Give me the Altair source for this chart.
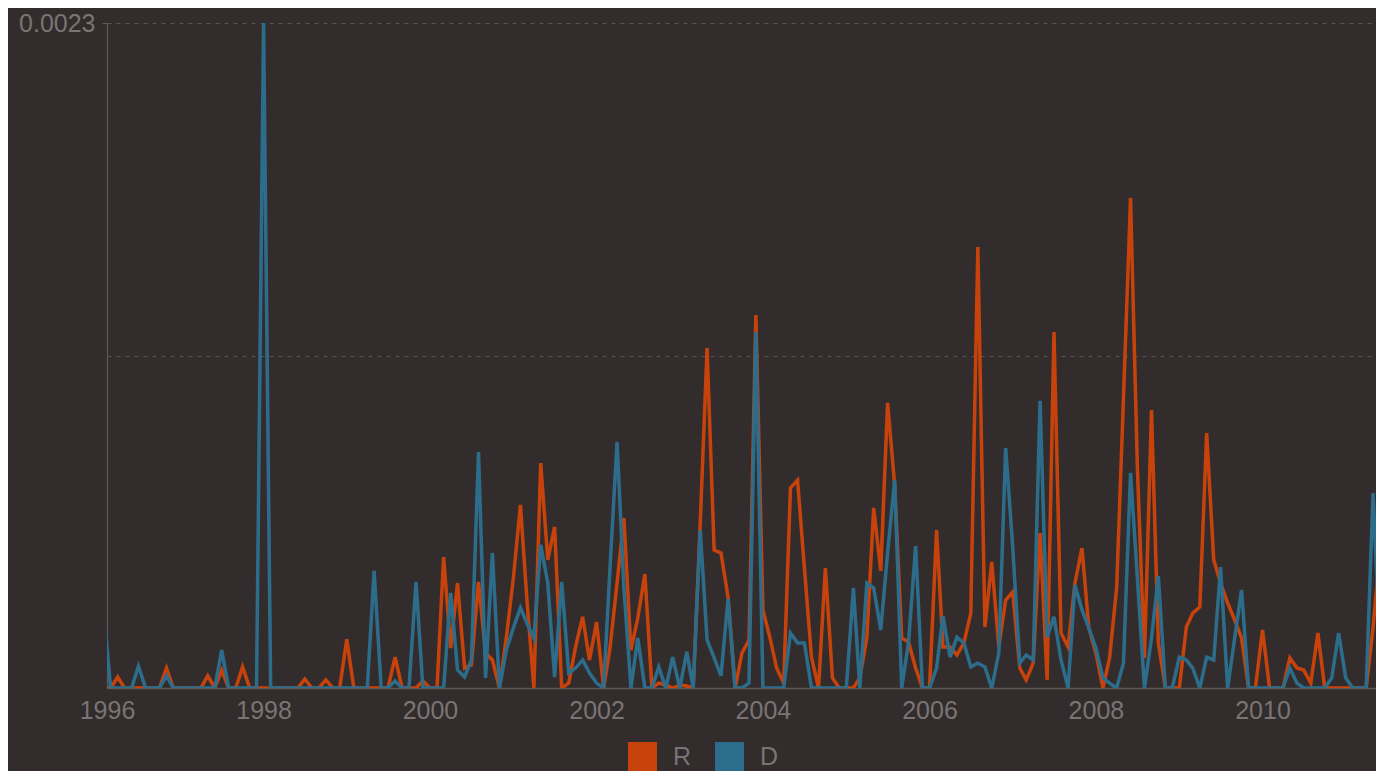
import altair as alt
import pandas as pd

# Monthly series, first month = February 1996
MONTHS = pd.date_range("1996-02-01", periods=185, freq="MS").strftime("%Y-%m-%d").tolist()
SERIES = ["R", "D"]
COLORS = ["#c8430c", "#2d6d8c"]

R_VALUES = [
    0, 0, 38e-6, 0, 0, 0, 0, 0, 0, 69e-6,
    0, 0, 0, 0, 0, 42e-6, 0, 62e-6, 0, 0,
    73e-6, 0, 0, 0, 0, 0, 0, 0, 0, 31e-6,
    0, 0, 28e-6, 0, 0, 169e-6, 0, 0, 0, 0,
    0, 0, 107e-6, 0, 0, 0, 24e-6, 0, 0, 453e-6,
    138e-6, 363e-6, 69e-6, 80e-6, 367e-6, 121e-6, 97e-6, 0, 173e-6, 380e-6,
    633e-6, 311e-6, 0, 778e-6, 443e-6, 557e-6, 0, 17e-6, 142e-6, 246e-6,
    97e-6, 228e-6, 0, 138e-6, 363e-6, 588e-6, 131e-6, 242e-6, 394e-6, 0,
    17e-6, 10e-6, 0, 10e-6, 7e-6, 0, 571e-6, 1176e-6, 477e-6, 467e-6,
    315e-6, 0, 121e-6, 166e-6, 1290e-6, 270e-6, 173e-6, 69e-6, 17e-6, 692e-6,
    719e-6, 415e-6, 107e-6, 0, 415e-6, 35e-6, 0, 0, 0, 35e-6,
    173e-6, 623e-6, 405e-6, 986e-6, 702e-6, 173e-6, 159e-6, 69e-6, 0, 0,
    546e-6, 142e-6, 142e-6, 114e-6, 156e-6, 259e-6, 1525e-6, 211e-6, 436e-6, 142e-6,
    304e-6, 332e-6, 69e-6, 28e-6, 86e-6, 536e-6, 28e-6, 1231e-6, 190e-6, 142e-6,
    363e-6, 484e-6, 208e-6, 121e-6, 0, 104e-6, 346e-6, 1003e-6, 1695e-6, 761e-6,
    104e-6, 961e-6, 156e-6, 0, 0, 0, 211e-6, 259e-6, 280e-6, 882e-6,
    443e-6, 363e-6, 294e-6, 235e-6, 173e-6, 0, 0, 201e-6, 0, 0,
    0, 104e-6, 69e-6, 62e-6, 17e-6, 190e-6, 0, 0, 0, 0,
    0, 0, 0, 208e-6, 484e-6,
]

D_VALUES = [
    256e-6, 0, 0, 0, 0, 76e-6, 0, 0, 0, 42e-6,
    0, 0, 0, 0, 0, 0, 0, 131e-6, 0, 0,
    0, 0, 0, 2300e-6, 0, 0, 0, 0, 0, 0,
    0, 0, 0, 0, 0, 0, 0, 0, 0, 405e-6,
    0, 0, 24e-6, 0, 0, 367e-6, 0, 0, 0, 0,
    329e-6, 62e-6, 38e-6, 97e-6, 816e-6, 35e-6, 467e-6, 0, 131e-6, 208e-6,
    277e-6, 225e-6, 173e-6, 495e-6, 363e-6, 38e-6, 367e-6, 52e-6, 69e-6, 97e-6,
    52e-6, 17e-6, 0, 415e-6, 851e-6, 346e-6, 0, 173e-6, 0, 0,
    73e-6, 0, 107e-6, 0, 125e-6, 0, 546e-6, 166e-6, 104e-6, 42e-6,
    308e-6, 0, 0, 17e-6, 1231e-6, 0, 0, 0, 0, 190e-6,
    156e-6, 156e-6, 0, 0, 0, 0, 0, 0, 346e-6, 0,
    363e-6, 346e-6, 201e-6, 467e-6, 719e-6, 0, 159e-6, 491e-6, 0, 0,
    69e-6, 249e-6, 107e-6, 176e-6, 156e-6, 73e-6, 86e-6, 73e-6, 0, 121e-6,
    830e-6, 488e-6, 86e-6, 114e-6, 97e-6, 993e-6, 176e-6, 246e-6, 97e-6, 0,
    356e-6, 270e-6, 208e-6, 138e-6, 35e-6, 17e-6, 0, 86e-6, 744e-6, 380e-6,
    0, 173e-6, 387e-6, 0, 0, 107e-6, 97e-6, 69e-6, 0, 107e-6,
    97e-6, 418e-6, 0, 173e-6, 339e-6, 0, 0, 0, 0, 0,
    0, 69e-6, 17e-6, 0, 0, 0, 0, 35e-6, 190e-6, 35e-6,
    0, 0, 0, 674e-6, 138e-6,
]

Y_MAX = 0.0023
Y_TICKS = [0, 0.00115, 0.0023]

assert len(R_VALUES) == len(MONTHS) == len(D_VALUES)

rows = []
for name, vals in zip(SERIES, [R_VALUES, D_VALUES]):
    for m, v in zip(MONTHS, vals):
        rows.append({"date": m, "party": name, "value": v})
df = pd.DataFrame(rows)

GRAY = "#7a7474"
AXIS_LINE = "#5e5858"
FONT = "Liberation Sans"

x_domain = [alt.DateTime(year=1996, month=2, date=14, utc=True),
            alt.DateTime(year=2011, month=5, date=14, utc=True)]
x_ticks = [alt.DateTime(year=1996, month=2, date=14, utc=True)] + [
    alt.DateTime(year=y, month=1, date=1, utc=True) for y in range(1998, 2011, 2)
]

x_enc = alt.X(
    "date:T",
    scale=alt.Scale(type="utc", domain=x_domain),
    axis=alt.Axis(
        values=x_ticks,
        labelExpr="utcFormat(datum.value, '%Y')",
        title=None,
        grid=False,
        ticks=False,
        domainColor=AXIS_LINE,
        domainWidth=1.5,
        labelColor=GRAY,
        labelFontSize=25,
        labelFont=FONT,
        labelPadding=10,
        labelOverlap=False,
        labelFlush=False,
    ),
)
y_enc = alt.Y(
    "value:Q",
    scale=alt.Scale(domain=[0, Y_MAX], nice=False, zero=True),
    axis=alt.Axis(
        values=Y_TICKS,
        labelExpr="datum.value >= 0.0023 ? '0.0023' : ''",
        title=None,
        grid=True,
        gridDash=[4, 5],
        gridColor="#5a5353",
        gridWidth=1,
        domainColor=AXIS_LINE,
        domainWidth=1.2,
        tickColor=AXIS_LINE,
        tickSize=5,
        tickOpacity={"condition": {"test": "datum.value >= 0.0023", "value": 1}, "value": 0},
        labelColor=GRAY,
        labelFontSize=25,
        labelFont=FONT,
        labelPadding=7,
    ),
)
color_scale = alt.Scale(domain=SERIES, range=COLORS)

legend_layer = alt.Chart(df).mark_square(filled=True, opacity=0, size=1).encode(
    x=x_enc,
    y=y_enc,
    color=alt.Color(
        "party:N",
        scale=color_scale,
        legend=alt.Legend(
            title=None,
            orient="none",
            legendX=521,
            legendY=719,
            direction="horizontal",
            symbolType="square",
            symbolSize=841,
            symbolOpacity=1,
            symbolStrokeWidth=0,
            labelFontSize=25,
            labelFont=FONT,
            labelColor=GRAY,
            labelOffset=16,
            columnPadding=23,
            padding=0,
        ),
    ),
)

def line_layer(name):
    return alt.Chart(df).transform_filter(alt.datum.party == name).mark_line(
        strokeWidth=3.5, clip=True
    ).encode(
        x=x_enc,
        y=y_enc,
        color=alt.Color("party:N", scale=color_scale, legend=None),
    )

chart = alt.layer(legend_layer, line_layer("R"), line_layer("D")).properties(
    width=1269,
    height=665,
    autosize=alt.AutoSizeParams(type="none"),
    padding={"left": 99, "top": 15, "right": 0, "bottom": 83},
    background="#322c2c",
).configure_view(strokeWidth=0)

chart.save("out.html", embed_options={"renderer": "svg", "actions": False})
